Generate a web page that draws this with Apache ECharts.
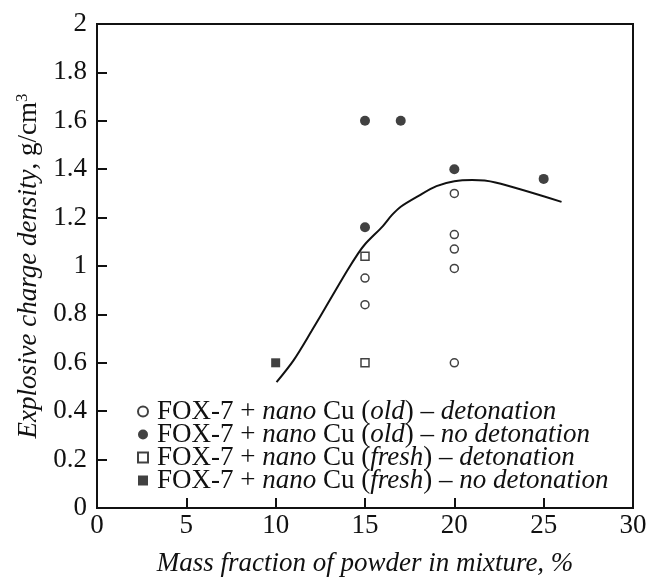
<!DOCTYPE html>
<html>
<head>
<meta charset="utf-8">
<script src="https://cdn.jsdelivr.net/npm/echarts@6/dist/echarts.min.js"></script>
<style>
  html, body { margin: 0; padding: 0; background: #fff; }
  #main { width: 650px; height: 577px; }
</style>
</head>
<body>
<div id="main"></div>
<script>
// points: [mass fraction %, density g/cm3]
var oldDetonation = [[15, 0.95], [15, 0.84], [20, 1.30], [20, 1.13], [20, 1.07], [20, 0.99], [20, 0.60]];
var oldNoDetonation = [[15, 1.60], [17, 1.60], [20, 1.40], [25, 1.36], [15, 1.16]];
var freshDetonation = [[15, 1.04], [15, 0.60]];
var freshNoDetonation = [[10, 0.60]];
var fitCurve = [[10.05, 0.52], [11, 0.61], [12, 0.73], [13, 0.855], [14, 0.98], [14.6, 1.05], [15, 1.09],
    [16, 1.165], [16.5, 1.21], [17, 1.245], [18, 1.29], [19, 1.33], [20, 1.35], [21, 1.355],
    [22.3, 1.345], [26, 1.265]];

var serif = '"Liberation Serif", "DejaVu Serif", serif';
var fs = 27;

function legendText(state, result) {
    return '{n|FOX-7 + }{i|nano}{n| Cu (}{i|' + state + '}{n|) – }{i|' + result + '}';
}

var names = [
    legendText('old', 'detonation'),
    legendText('old', 'no detonation'),
    legendText('fresh', 'detonation'),
    legendText('fresh', 'no detonation')
];

var chart = echarts.init(document.getElementById('main'));
var option = {
    animation: false,
    backgroundColor: '#fff',
    grid: {
        left: 97, right: 17, top: 24, bottom: 69,
        outerBoundsMode: 'none',
        show: true, borderColor: '#111', borderWidth: 2
    },
    legend: {
        orient: 'vertical',
        left: 132,
        top: 393,
        itemGap: -4,
        itemWidth: 10,
        itemHeight: 10,
        selectedMode: false,
        data: names,
        textStyle: {
            fontFamily: serif, fontSize: fs, color: '#111', padding: [0, 0, 0, 4],
            rich: {
                n: { fontFamily: serif, fontSize: fs, color: '#111' },
                i: { fontFamily: serif, fontSize: fs, color: '#111', fontStyle: 'italic' }
            }
        }
    },
    xAxis: {
        type: 'value', min: 0, max: 30, interval: 5,
        name: 'Mass fraction of powder in mixture, %',
        nameLocation: 'middle', nameGap: 42,
        nameTextStyle: { fontFamily: serif, fontSize: fs, fontStyle: 'italic', color: '#111' },
        axisLine: { lineStyle: { color: '#111', width: 2 } },
        axisTick: { inside: true, length: 10, lineStyle: { color: '#111', width: 2 } },
        axisLabel: { fontFamily: serif, fontSize: fs, color: '#111', margin: 4 },
        splitLine: { show: false }
    },
    yAxis: {
        type: 'value', min: 0, max: 2, interval: 0.2,
        name: '{i|Explosive charge density}{n|, g/cm}{s|3}',
        nameLocation: 'middle', nameGap: 52,
        nameTextStyle: {
            rich: {
                i: { fontFamily: serif, fontSize: fs, fontStyle: 'italic', color: '#111' },
                n: { fontFamily: serif, fontSize: fs, color: '#111' },
                s: { fontFamily: serif, fontSize: 17, color: '#111', verticalAlign: 'top', padding: [0, 0, 12, 0] }
            }
        },
        axisLine: { lineStyle: { color: '#111', width: 2 } },
        axisTick: { inside: true, length: 10, lineStyle: { color: '#111', width: 2 } },
        axisLabel: {
            fontFamily: serif, fontSize: fs, color: '#111', margin: 10,
            formatter: function (v) { return String(Math.round(v * 10) / 10); }
        },
        splitLine: { show: false }
    },
    series: [
        {
            name: names[0], type: 'scatter', data: oldDetonation,
            symbol: 'circle', symbolSize: 8,
            itemStyle: { color: '#fff', borderColor: '#111', borderWidth: 1.5 }
        },
        {
            name: names[1], type: 'scatter', data: oldNoDetonation,
            symbol: 'circle', symbolSize: 10,
            itemStyle: { color: '#111' }
        },
        {
            name: names[2], type: 'scatter', data: freshDetonation,
            symbol: 'rect', symbolSize: 8,
            itemStyle: { color: '#fff', borderColor: '#111', borderWidth: 1.5 }
        },
        {
            name: names[3], type: 'scatter', data: freshNoDetonation,
            symbol: 'rect', symbolSize: 9,
            itemStyle: { color: '#111' }
        },
        {
            name: 'fit', type: 'line', data: fitCurve,
            showSymbol: false, smooth: 0.3,
            lineStyle: { color: '#111', width: 2 }
        }
    ]
};
chart.setOption(option);
</script>
</body>
</html>
